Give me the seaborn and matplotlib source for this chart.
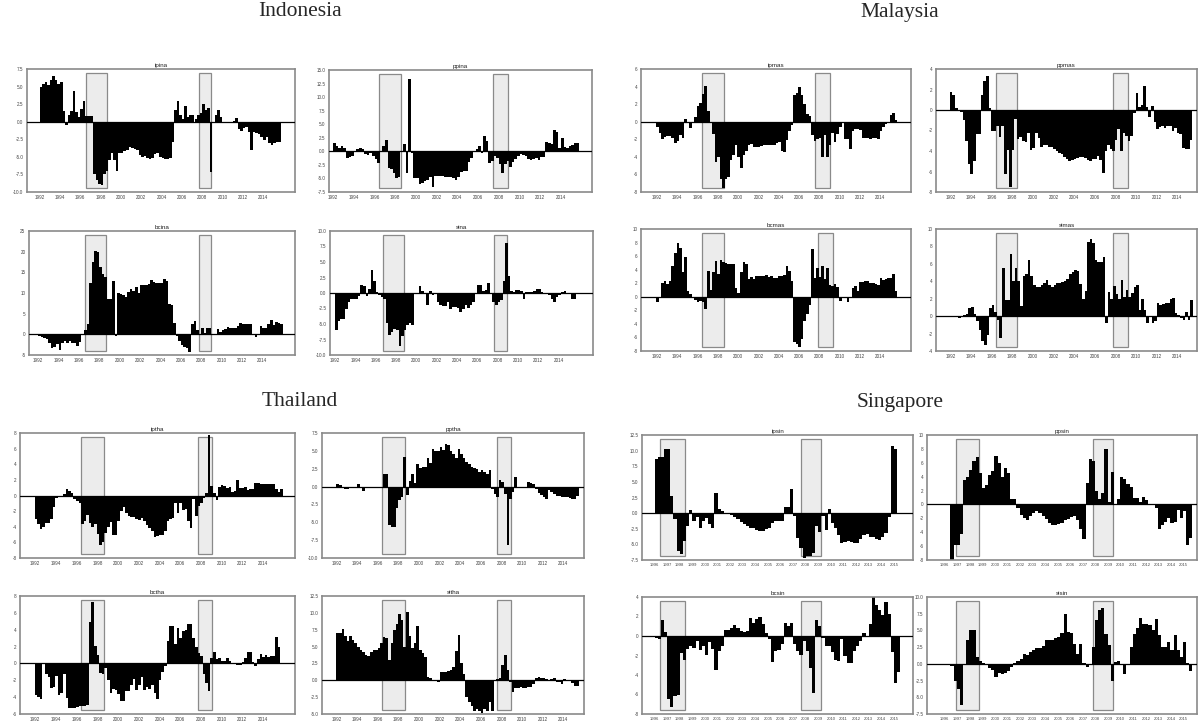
import matplotlib
matplotlib.use("Agg")
import numpy as np
import pandas as pd
import matplotlib.pyplot as plt
import seaborn as sns

# Quarterly values; each series starts at its panel's "start" year.

# Indonesia
ipina = [5.0, 5.3, 5.6, 5.2, 6.0, 6.5, 6.0, 5.3, 5.6, 1.5, -0.4, 1.0,
         1.5, 4.3, 1.4, 0.6, 1.8, 3.0, 0.8, 0.8, 0.8, -7.5, -8.3, -8.8,
         -9.0, -7.5, -7.0, -5.5, -4.5, -5.5, -7.0, -4.5, -4.5, -4.2, -4.0, -3.6,
         -3.7, -3.9, -4.0, -4.8, -5.0, -4.9, -5.1, -5.3, -5.2, -4.6, -4.5, -5.0,
         -5.2, -5.3, -5.3, -5.2, -2.9, 1.6, 3.0, 1.0, 0.4, 2.3, 0.7, 0.9,
         0.9, 0.4, 0.9, 1.2, 2.5, 1.6, 2.0, -7.2, 0.0, 1.0, 1.6, 0.7,
         -0.2, -0.2, -0.2, -0.2, 0.1, 0.5, -1.0, -1.3, -0.9, -0.8, -1.5, -4.0,
         -1.5, -1.6, -1.8, -2.2, -2.6, -2.2, -3.0, -3.3, -3.0, -2.9, -2.9, 0.0]
ppina = [1.6, 1.0, 0.6, 1.0, 0.7, -1.2, -1.0, -0.9, -0.2, 0.5, 0.6, 0.4,
         -0.5, -0.6, -0.3, -0.8, -1.5, -2.2, 0.0, 1.0, 2.1, -3.0, -3.3, -4.0,
         -4.9, -4.8, -0.1, 1.4, -4.0, 13.4, -0.3, -4.9, -4.9, -6.0, -5.8, -5.5,
         -5.2, -4.8, -6.5, -4.6, -4.6, -4.6, -4.6, -4.7, -4.7, -4.8, -5.0, -5.2,
         -4.8, -3.8, -3.6, -3.6, -2.0, -1.2, -0.2, 0.5, 0.9, -0.3, 2.9, 1.9,
         -2.2, -1.8, -0.8, -1.3, -2.3, -4.0, -2.4, -1.8, -2.8, -2.0, -1.5, -0.9,
         -0.4, -0.6, -0.9, -1.5, -1.6, -1.4, -1.2, -1.6, -1.1, -1.0, 1.8, 1.5,
         1.3, 4.0, 3.5, 0.6, 2.4, 0.8, 0.6, 1.0, 1.2, 1.6, 1.6, 0.0]
bcina = [-0.3, -0.7, -1.0, -1.2, -2.0, -3.4, -3.0, -2.4, -3.8, -2.2, -1.5, -2.0,
         -1.6, -2.2, -2.2, -2.8, -1.8, 0.2, 1.0, 2.5, 12.3, 17.5, 20.2, 20.0,
         16.2, 14.5, 13.9, 8.5, 8.5, 12.8, -0.3, 10.0, 9.7, 9.5, 9.0, 10.2,
         11.0, 10.5, 11.4, 10.0, 12.0, 12.0, 12.0, 12.1, 13.2, 12.7, 12.4, 12.4,
         12.5, 13.4, 12.8, 7.3, 7.0, 2.8, -0.3, -1.5, -2.7, -3.0, -3.2, -4.2,
         2.5, 3.3, 1.0, 0.2, 1.5, 0.4, 1.5, 1.5, 0.0, 0.0, 1.2, 0.6,
         1.0, 1.3, 1.7, 1.5, 1.5, 1.5, 2.0, 2.8, 2.6, 2.5, 2.5, 2.5,
         0.0, -0.7, 0.0, 2.0, 1.5, 1.6, 2.4, 3.4, 2.2, 3.0, 2.8, 2.6]
sina = [-6.0, -4.5, -4.2, -4.2, -2.5, -1.5, -1.0, -1.0, -1.0, -0.5, 1.3, 1.2,
        -0.5, 0.6, 3.7, 2.0, 0.2, -0.3, -0.7, -0.9, -4.8, -6.8, -6.3, -5.8,
        -6.0, -8.5, -7.0, -6.0, -5.1, -4.8, -5.1, 0.0, 0.0, 1.2, 0.4, 0.0,
        -2.0, 0.4, -0.4, -0.1, -1.4, -2.0, -2.1, -2.1, -1.5, -2.5, -2.3, -2.3,
        -2.4, -3.0, -2.5, -2.0, -2.4, -2.0, -1.5, 0.0, 1.3, 1.3, 0.3, 0.5,
        1.6, -0.2, -1.5, -2.0, -1.5, -1.2, 2.0, 8.0, 2.7, 0.3, 0.2, 0.5,
        0.5, 0.3, -1.0, 0.2, 0.2, 0.2, 0.4, 0.6, 0.6, 0.1, 0.0, -0.1,
        -0.3, -1.0, -1.5, -0.6, -0.3, 0.2, 0.4, 0.0, -0.2, -1.0, -1.0, 0.0]

# Malaysia
ipmas = [-0.6, -1.3, -2.0, -1.7, -1.6, -1.6, -1.8, -2.4, -2.2, -1.5, -1.8, 0.3,
         0.0, -0.7, 0.0, 0.5, 1.8, 2.1, 3.2, 4.1, 1.2, 0.0, -1.4, -4.6,
         -4.0, -6.5, -7.5, -6.5, -6.3, -4.4, -3.8, -2.7, -4.0, -5.3, -3.8, -3.3,
         -2.7, -2.5, -2.9, -2.9, -2.9, -2.8, -2.7, -2.7, -2.6, -2.6, -2.6, -2.4,
         -2.3, -3.3, -3.4, -2.1, -1.0, -0.4, 3.0, 3.3, 4.0, 3.0, 2.0, 0.9,
         0.7, -1.5, -2.2, -2.0, -1.9, -4.0, -1.5, -4.0, -2.7, -1.3, -2.3, -1.4,
         -0.6, 0.0, -2.0, -2.0, -3.1, -1.0, -0.8, -0.8, -0.9, -1.8, -1.8, -1.8,
         -2.0, -1.9, -1.9, -2.0, -1.1, -0.6, -0.3, -0.1, 0.8, 1.0, 0.2, 0.0]
ppmas = [1.8, 1.5, 0.2, -0.1, -0.2, -1.0, -3.0, -5.3, -6.2, -5.0, -2.3, -2.3,
         1.5, 2.8, 3.3, 0.2, -2.0, -2.0, -1.6, -2.6, -1.6, -6.2, -3.9, -7.5,
         -3.9, -0.9, -2.8, -2.6, -3.0, -3.1, -2.2, -3.9, -3.7, -2.2, -2.7, -3.6,
         -3.4, -3.4, -3.6, -3.6, -3.8, -4.0, -4.2, -4.3, -4.6, -4.8, -5.0, -4.9,
         -4.8, -4.7, -4.6, -4.6, -4.7, -4.9, -5.0, -4.8, -4.8, -4.5, -4.9, -6.1,
         -4.0, -3.4, -3.8, -4.0, -2.9, -1.9, -4.0, -2.2, -2.5, -3.0, -2.5, -0.3,
         1.7, 0.3, 0.5, 2.3, 0.3, -0.7, 0.4, -1.2, -1.9, -1.7, -1.6, -1.8,
         -1.6, -1.6, -2.0, -1.8, -2.2, -2.3, -3.7, -3.8, -3.8, -2.9, 0.0, 0.0]
bcmas = [-0.8, 0.0, 2.1, 2.3, 1.9, 2.4, 4.6, 6.5, 8.0, 7.2, 3.6, 5.8,
         0.9, 0.4, 0.0, -0.5, -0.8, -0.6, -0.7, -1.8, 3.8, 1.0, 3.6, 5.3,
         3.3, 5.4, 5.2, 5.0, 4.9, 4.9, 4.8, 1.3, 0.5, 3.7, 5.1, 4.8,
         2.6, 2.9, 2.6, 3.1, 3.0, 3.0, 3.0, 3.2, 2.9, 3.0, 2.8, 2.8,
         3.0, 3.0, 3.2, 4.5, 3.8, 2.4, -6.6, -7.0, -7.4, -6.2, -3.6, -2.6,
         -1.2, 7.0, 2.7, 4.2, 2.9, 4.5, 2.6, 4.2, 1.8, 1.6, 1.9, 1.4,
         -0.6, -0.2, -0.2, -0.8, 0.0, 1.3, 1.6, 0.9, 2.2, 2.2, 2.3, 2.3,
         2.1, 2.0, 1.9, 1.8, 2.7, 2.5, 2.6, 2.8, 2.7, 3.3, 0.9, 0.0]
simas = [0.0, 0.0, -0.1, -0.2, -0.1, 0.1, 0.3, 0.9, 1.0, 0.2, -0.5, -1.6,
         -2.8, -3.3, -2.2, 0.9, 1.3, 0.5, -0.4, -2.5, 5.5, 1.8, 1.8, 7.1,
         4.0, 5.5, 4.0, 1.2, 4.6, 4.8, 6.4, 4.6, 3.6, 3.4, 3.4, 3.6,
         3.8, 4.1, 3.6, 3.4, 3.6, 3.8, 3.8, 3.9, 4.0, 4.3, 4.8, 5.1,
         5.3, 5.2, 3.7, 2.0, 2.9, 8.5, 8.8, 8.4, 6.4, 6.2, 6.2, 6.8,
         -0.8, 2.8, 2.0, 3.5, 2.5, 2.0, 4.1, 2.2, 3.0, 2.2, 2.6, 3.3,
         3.6, 0.7, 2.0, 0.7, -0.8, -0.1, -0.8, -0.6, 1.5, 1.3, 1.4, 1.5,
         1.5, 2.0, 2.1, 0.4, 0.1, -0.2, -0.4, 0.5, -0.4, 1.9, 0.0, 0.0]

# Thailand
iptha = [-3.0, -3.6, -4.3, -4.0, -3.5, -3.5, -3.0, -1.5, -0.3, 0.0, 0.0, 0.2,
         0.8, 0.6, 0.3, -0.4, -0.7, -0.9, -3.6, -3.3, -2.5, -3.5, -4.0, -3.6,
         -4.9, -6.3, -6.0, -4.8, -4.0, -3.4, -5.1, -5.1, -3.2, -2.0, -1.5, -2.2,
         -2.6, -2.7, -2.8, -3.0, -3.1, -2.9, -3.3, -3.8, -4.2, -4.6, -5.3, -5.2,
         -5.1, -5.0, -4.5, -3.3, -3.0, -2.9, -1.0, -2.2, -1.0, -1.8, -1.7, -3.2,
         -4.2, -0.5, -2.6, -1.3, -1.0, -0.3, 0.3, 7.8, 1.2, 0.3, -0.6, 1.1,
         1.3, 1.2, 1.0, 1.1, 0.5, 0.6, 2.0, 0.9, 0.9, 1.1, 0.7, 0.8,
         0.8, 1.6, 1.6, 1.5, 1.5, 1.5, 1.5, 1.5, 1.5, 0.8, 0.5, 0.8]
pptha = [0.4, 0.2, 0.0, -0.3, -0.4, -0.2, 0.0, 0.0, 0.4, 0.0, -0.6, 0.0,
         0.0, 0.0, 0.0, 0.0, 0.0, 0.0, 1.7, 1.7, -5.4, -5.7, -5.7, -3.0,
         -1.9, -1.5, 4.1, -1.2, 0.8, 1.7, 0.5, 3.2, 2.6, 2.8, 2.8, 4.0,
         3.3, 5.3, 5.0, 5.0, 5.6, 5.1, 6.0, 5.8, 5.0, 4.5, 4.0, 5.2,
         4.6, 4.0, 3.5, 3.1, 2.8, 2.6, 2.4, 2.0, 2.3, 2.1, 1.8, 2.3,
         -0.3, -1.0, -1.5, 0.9, 0.6, -1.0, -8.2, -1.8, -0.8, 1.4, -0.2, 0.0,
         0.0, 0.0, 0.6, 0.5, 0.3, -0.3, -0.9, -1.2, -1.4, -1.8, -0.5, -0.7,
         -1.0, -1.3, -1.3, -1.4, -1.5, -1.5, -1.6, -1.7, -1.7, -1.3, 0.0, 0.0]
bctha = [-3.7, -4.0, -4.2, 0.0, -1.2, -1.6, -2.9, -2.8, -1.5, -3.8, -3.5, -1.3,
         -4.1, -5.3, -5.3, -5.3, -5.2, -5.1, -5.0, -5.0, -4.9, 4.9, 7.3, 2.1,
         1.0, -1.1, -1.3, -0.5, -2.0, -3.5, -3.0, -3.2, -3.6, -4.5, -4.5, -3.3,
         -3.3, -2.5, -1.8, -3.2, -2.6, -1.6, -3.2, -2.8, -3.0, -2.6, -3.5, -4.2,
         -2.0, -1.0, -0.3, 2.7, 4.5, 4.4, 2.3, 4.2, 3.0, 3.8, 4.0, 4.7,
         4.7, 3.0, 2.0, 1.2, 0.9, -1.2, -2.3, -3.3, 0.6, 1.4, 0.5, 0.6,
         0.3, 0.3, 0.6, 0.3, 0.1, -0.1, -0.2, -0.2, 0.2, 0.7, 1.3, 1.3,
         0.2, -0.3, 0.5, 1.1, 0.8, 1.0, 0.8, 0.9, 0.9, 3.1, 2.0, 0.0]
sitha = [7.0, 7.0, 7.6, 6.5, 5.8, 6.5, 6.0, 5.5, 5.0, 4.5, 4.2, 3.8,
         3.6, 4.2, 4.5, 4.5, 4.8, 5.5, 6.4, 6.2, 3.0, 5.5, 7.5, 8.3,
         9.8, 9.0, 5.0, 10.2, 6.5, 4.8, 5.5, 8.0, 4.5, 4.0, 3.5, 0.5,
         0.3, 0.1, 0.0, -0.3, 1.3, 1.3, 1.3, 1.4, 1.5, 2.0, 4.3, 6.7,
         2.5, 1.0, -2.5, -3.2, -3.8, -4.6, -4.2, -4.6, -4.8, -4.3, -4.5, -3.2,
         -4.5, 0.0, 0.2, 0.4, 2.2, 3.8, 1.5, -0.3, -1.7, -1.2, -1.2, -1.0,
         -1.2, -1.1, -1.0, -1.0, -0.6, 0.3, 0.5, 0.4, 0.3, 0.2, -0.1, 0.2,
         0.3, -0.2, -0.3, -0.5, 0.2, 0.0, 0.0, -0.4, -0.9, -0.9, 0.0, 0.0]

# Singapore
ipsin = [8.6, 9.0, 9.0, 10.2, 10.2, 2.8, -1.0, -6.0, -6.5, -4.5, -2.0, 0.5,
         -1.2, -0.6, -2.4, -1.3, -0.7, -1.8, -2.4, 3.2, 0.6, 0.3, 0.0, 0.0,
         -0.3, -0.6, -1.0, -1.4, -1.8, -2.0, -2.3, -2.4, -2.7, -2.8, -2.8, -2.6,
         -2.3, -1.5, -1.2, -1.3, -1.2, 1.0, 1.0, 3.8, -0.5, -3.9, -5.5, -7.1,
         -6.9, -6.8, -6.3, -2.0, -3.0, -0.4, -2.7, 0.6, -1.6, -2.3, -3.5, -4.7,
         -4.6, -4.5, -4.6, -4.7, -4.8, -4.2, -3.5, -3.3, -3.8, -3.8, -4.2, -4.3,
         -3.8, -3.2, -0.6, 10.8, 10.3]
ppsin = [-8.0, -5.8, -5.8, -4.3, 3.5, 4.0, 5.0, 6.3, 6.8, 4.6, 2.3, 2.8,
         4.2, 4.8, 7.0, 6.0, 4.0, 5.3, 4.5, 0.8, 0.8, -0.5, -1.5, -2.0,
         -2.2, -1.6, -1.2, -0.9, -1.2, -1.7, -2.1, -2.6, -3.0, -3.0, -2.8, -2.6,
         -2.3, -2.1, -1.8, -1.7, -2.2, -3.5, -5.0, 3.1, 6.6, 6.2, 2.0, 0.8,
         1.6, 8.0, 0.3, 4.7, 0.0, 0.8, 4.0, 3.6, 3.0, 2.5, 1.0, 1.0,
         0.3, 1.1, 0.6, 0.0, 0.0, -0.5, -3.5, -3.0, -2.5, -1.9, -2.6, -2.5,
         -0.8, -1.9, -1.0, -5.8, -4.8]
bcsin = [-0.2, -0.3, 1.6, 0.4, -6.5, -7.3, -6.2, -6.1, -1.7, -2.5, -1.3, -1.0,
         -1.2, -0.5, -1.4, -1.0, -1.9, -0.6, -1.3, -3.5, -1.5, -1.0, 0.6, 0.6,
         0.8, 1.1, 0.8, 0.5, 0.4, 0.5, 1.8, 1.3, 1.7, 1.9, 1.2, 0.3,
         -0.3, -2.7, -1.5, -1.4, -0.8, 1.3, 1.0, 1.3, -0.8, -1.5, -1.9, -0.5,
         -1.5, -3.3, -5.8, 1.6, 1.0, -0.2, -1.0, -1.0, -1.6, -2.5, -2.6, -0.3,
         -2.0, -2.8, -2.8, -1.5, -1.0, -0.5, 0.3, 0.0, 1.2, 4.0, 3.2, 2.7,
         2.2, 3.5, 2.3, -1.6, -4.8, -3.7]
sisin = [-0.3, -2.5, -3.7, -6.1, 0.0, 3.5, 5.1, 5.1, 1.0, 0.5, 0.2, 0.0,
         -0.6, -0.9, -2.0, -1.3, -1.5, -1.3, -1.0, -0.4, 0.2, 0.5, 0.8, 1.5,
         1.3, 1.8, 2.0, 2.3, 2.4, 2.6, 3.6, 3.6, 3.6, 3.8, 4.0, 4.6,
         7.4, 4.8, 4.6, 3.0, 1.5, 3.0, 0.2, -0.5, 0.0, 2.5, 6.6, 8.0,
         8.3, 4.5, 2.8, -2.5, 0.3, 0.5, 0.0, -1.5, 0.0, 2.5, 4.4, 5.4,
         6.8, 6.0, 6.0, 5.8, 5.0, 6.7, 4.3, 2.5, 2.5, 3.3, 2.0, 4.3,
         2.0, 1.0, 3.2, 0.2, -1.0]

# x tick years
idn_years = list(range(1992, 2015, 2))
sgp_years = list(range(1996, 2016))

W, H = 1198, 725

sns.set_style("white")
plt.rcParams["font.family"] = ["Liberation Sans", "DejaVu Sans"]

fig = plt.figure(figsize=(W / 100, H / 100), dpi=100)


def panel(name, vals, start, rect, xlim, boxes, ylim, ystep, xt):
    x0, y0, x1, y1 = rect
    ax = fig.add_axes([x0 / W, 1 - y1 / H, (x1 - x0) / W, (y1 - y0) / H])
    # shaded crisis windows
    for a, b in boxes:
        ax.axvspan(a, b, ymin=0.03, ymax=0.965, facecolor="#ececec",
                   edgecolor="#8a8a8a", lw=0.9, zorder=0)
    df = pd.DataFrame({"t": start + 0.125 + 0.25 * np.arange(len(vals)), "v": vals})
    sns.barplot(data=df, x="t", y="v", native_scale=True, width=1.0, color="black",
                saturation=1, linewidth=0, errorbar=None, ax=ax, zorder=2)
    ax.axhline(0, color="black", lw=0.9, zorder=3)
    ax.set_xlim(*xlim)
    ax.set_ylim(*ylim)
    yt = np.arange(ylim[0], ylim[1] + ystep / 2, ystep)
    ax.set_yticks(yt)
    ax.set_yticklabels([f"{v:.1f}" if ystep % 1 else f"{v:.0f}" for v in yt])
    ax.set_xticks(xt)
    ax.set_xticklabels([str(y) for y in xt])
    ax.set(xlabel="", ylabel="")
    ax.tick_params(axis="both", labelsize=3.3, length=1.5, width=0.5, pad=1,
                   colors="#444444")
    ax.tick_params(axis="x", labelsize=3.0 if len(xt) > 15 else 3.3, pad=0.8)
    for s in ax.spines.values():
        s.set_color("#8a8a8a")
        s.set_linewidth(1.2)
    ax.set_title(name, fontsize=4.5, pad=1.5, color="#222222")
    return ax


# Indonesia
panel("ipina", ipina, 1992.0, (27, 69, 295, 192), (1990.75, 2017.15),
      [(1996.56, 1998.62), (2007.74, 2008.92)], (-10, 7.5), 2.5, idn_years)
panel("ppina", ppina, 1992.0, (329, 70, 592, 192), (1991.6, 2017.0),
      [(1996.45, 1998.52), (2007.48, 2008.84)], (-7.5, 15), 2.5, idn_years)
panel("bcina", bcina, 1992.0, (29, 231, 295, 355), (1991.1, 2017.2),
      [(1996.6, 1998.66), (2007.8, 2009.0)], (-5, 25), 5, idn_years)
panel("sina", sina, 1992.0, (330, 231, 593, 355), (1991.5, 2017.4),
      [(1996.69, 1998.79), (2007.64, 2008.95)], (-10, 10), 2.5, idn_years)

# Malaysia
panel("ipmas", ipmas, 1991.93, (641, 69, 911, 192), (1990.43, 2017.02),
      [(1996.46, 1998.56), (2007.6, 2009.08)], (-8, 6), 2, idn_years)
panel("ppmas", ppmas, 1991.94, (936, 69, 1197, 192), (1990.6, 2015.9),
      [(1996.42, 1998.45), (2007.8, 2009.23)], (-8, 4), 2, idn_years)
panel("bcmas", bcmas, 1991.93, (641, 229, 911, 351), (1990.43, 2017.02),
      [(1996.46, 1998.56), (2007.9, 2009.34)], (-8, 10), 2, idn_years)
panel("simas", simas, 1992.0, (936, 229, 1197, 351), (1990.6, 2015.9),
      [(1996.42, 1998.45), (2007.8, 2009.23)], (-4, 10), 2, idn_years)

# Thailand
panel("iptha", iptha, 1991.93, (20, 433, 295, 558), (1990.52, 2017.1),
      [(1996.44, 1998.67), (2007.74, 2009.04)], (-8, 8), 2, idn_years)
panel("pptha", pptha, 1992.0, (322, 433, 584, 558), (1990.6, 2016.0),
      [(1996.44, 1998.67), (2007.6, 2008.96)], (-10, 7.5), 2.5, idn_years)
panel("bctha", bctha, 1991.93, (20, 596, 295, 714), (1990.52, 2017.1),
      [(1996.44, 1998.67), (2007.74, 2009.04)], (-6, 8), 2, idn_years)
panel("sitha", sitha, 1992.0, (322, 596, 584, 714), (1990.6, 2016.0),
      [(1996.44, 1998.67), (2007.6, 2008.96)], (-5, 12.5), 2.5, idn_years)

# Singapore
panel("ipsin", ipsin, 1996.0, (642, 435, 913, 560), (1995.0, 2016.52),
      [(1996.45, 1998.4), (2007.64, 2009.18)], (-7.5, 12.5), 2.5, sgp_years)
panel("ppsin", ppsin, 1996.45, (927, 435, 1197, 560), (1994.58, 2016.07),
      [(1996.9, 1998.73), (2007.83, 2009.38)], (-8, 10), 2, sgp_years)
panel("bcsin", bcsin, 1996.0, (642, 597, 913, 714), (1995.0, 2016.52),
      [(1996.45, 1998.4), (2007.64, 2009.18)], (-8, 4), 2, sgp_years)
panel("sisin", sisin, 1996.45, (927, 597, 1197, 714), (1994.58, 2016.07),
      [(1996.9, 1998.73), (2007.83, 2009.38)], (-7.5, 10), 2.5, sgp_years)

for label, cx, cy in [("Indonesia", 300, 12), ("Malaysia", 900, 12),
                      ("Thailand", 300, 402), ("Singapore", 900, 402)]:
    fig.text(cx / W, 1 - cy / H, label, ha="center", va="center", fontsize=15.5,
             family=["Liberation Serif", "DejaVu Serif"])

fig.savefig("out.png", dpi=100)
